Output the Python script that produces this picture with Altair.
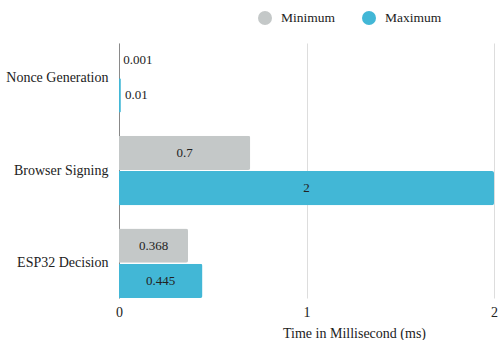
import altair as alt
import pandas as pd

categories = ["Nonce Generation", "Browser Signing", "ESP32 Decision"]
series = ["Minimum", "Maximum"]
min_vals = [0.001, 0.7, 0.368]
max_vals = [0.01, 2, 0.445]
labels_min = ["0.001", "0.7", "0.368"]
labels_max = ["0.01", "2", "0.445"]
colors = ["#C4C8C8", "#42B7D6"]

rows = []
for i, c in enumerate(categories):
    rows.append({"task": c, "series": "Minimum", "value": min_vals[i], "label": labels_min[i]})
    rows.append({"task": c, "series": "Maximum", "value": max_vals[i], "label": labels_max[i]})
df = pd.DataFrame(rows)

FONT = "Liberation Serif"

yaxis = alt.Axis(labelFontSize=14, labelColor="#222222", labelFont=FONT,
                 ticks=False, labelPadding=11, domainColor="#888888", domainWidth=1)
xaxis = alt.Axis(tickCount=2, grid=True, gridColor="#DDDDDD",
                 gridWidth=1, domain=False, ticks=False, labelFontSize=14,
                 labelFont=FONT, labelColor="#222222", labelPadding=7,
                 labelFlush=False, labelOverlap=False,
                 titleFont=FONT, titleFontSize=14, titleFontWeight="normal",
                 titleColor="#222222", titlePadding=7, titleX=235)
yscale = alt.Scale(paddingInner=0.25, paddingOuter=0)
xscale = alt.Scale(domain=[0, 2], nice=False)
TITLE = "Time in Millisecond (ms)"


def ych():
    return alt.Y("task:N", sort=categories, title=None, scale=yscale, axis=yaxis)


def yoff():
    return alt.YOffset("series:N", sort=series, scale=alt.Scale(paddingInner=0.03))


bars = alt.Chart(df).mark_bar(cornerRadiusEnd=2).encode(
    y=ych(), yOffset=yoff(),
    x=alt.X("value:Q", title=TITLE, scale=xscale, axis=xaxis),
    color=alt.Color("series:N", sort=series,
                    scale=alt.Scale(domain=series, range=colors),
                    legend=alt.Legend(title=None, orient="none", direction="horizontal",
                                      legendX=139, legendY=-32, symbolType="circle",
                                      symbolSize=196, symbolStrokeWidth=0,
                                      labelFont=FONT, labelFontSize=13.5,
                                      labelColor="#222222", labelOffset=9,
                                      columnPadding=26)),
)

inside = alt.Chart(df).transform_filter(
    alt.datum.task != "Nonce Generation"
).transform_calculate(mid="datum.value/2").mark_text(
    font=FONT, fontSize=13, color="#222222", baseline="middle", align="center"
).encode(y=ych(), yOffset=yoff(),
         x=alt.X("mid:Q", title=TITLE, scale=xscale, axis=xaxis), text="label:N")

outside = alt.Chart(df).transform_filter(
    alt.datum.task == "Nonce Generation"
).mark_text(
    font=FONT, fontSize=13, color="#222222", baseline="middle", align="left", dx=4
).encode(y=ych(), yOffset=yoff(),
         x=alt.X("value:Q", title=TITLE, scale=xscale, axis=xaxis), text="label:N")

chart = alt.layer(bars, inside, outside).properties(
    width=375, height=255,
    autosize=alt.AutoSizeParams(type="none"),
    padding={"left": 119, "top": 43, "right": 4, "bottom": 42},
).configure_view(stroke=None)

chart.save("out.html", embed_options={"renderer": "svg", "actions": False})
